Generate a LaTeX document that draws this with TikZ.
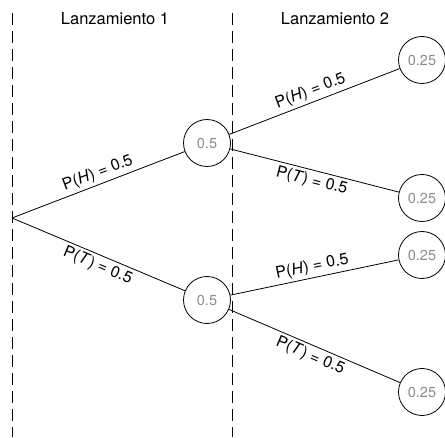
\documentclass[tikz,border=0pt]{standalone}
\usepackage{fontspec}
\setmainfont{TeX Gyre Heros}
\usetikzlibrary{positioning,calc}

\begin{document}
\begin{tikzpicture}[
    x=1pt, y=1pt,
    prob/.style={draw, circle, line width=0.8pt, minimum size=47pt, inner sep=0pt, text=black!45, font=\fontsize{14.5}{17}\selectfont},
    branch/.style={line width=0.8pt},
    lbl/.style={sloped, inner sep=3pt, font=\fontsize{16}{19}\selectfont},
    sep/.style={dash pattern=on 12pt off 6pt, line width=0.8pt},
    head/.style={font=\fontsize{16.5}{19}\selectfont}
  ]
    \useasboundingbox (0,0) rectangle (445,437);

    % columns
    \draw[sep] (12,424) -- (12,0);
    \draw[sep] (232,424) -- (232,0);
    \node[head] (toss1) at (115,418) {Lanzamiento 1};
    \node[head] (toss2) at (335,418) {Lanzamiento 2};

    % tree
    \coordinate (root) at (12,219);
    \node[prob] (h) at (207,294) {0.5};
    \node[prob] (t) at (207,137) {0.5};
    \node[prob] (hh) at (422,377) {0.25};
    \node[prob] (ht) at (422,239) {0.25};
    \node[prob] (th) at (422,182) {0.25};
    \node[prob] (tt) at (422,45) {0.25};

    \draw[branch] (root) -- node[lbl, above, pos=0.52] {P(\textit{H}) = 0.5} (h);
    \draw[branch] (root) -- node[lbl, below, pos=0.52] {P(\textit{T}) = 0.5} (t);
    \draw[branch] (h) -- node[lbl, above] {P(\textit{H}) = 0.5} (hh);
    \draw[branch] (h) -- node[lbl, below] {P(\textit{T}) = 0.5} (ht);
    \draw[branch] (t) -- node[lbl, above] {P(\textit{H}) = 0.5} (th);
    \draw[branch] (t) -- node[lbl, below] {P(\textit{T}) = 0.5} (tt);
  \end{tikzpicture}
\end{document}
